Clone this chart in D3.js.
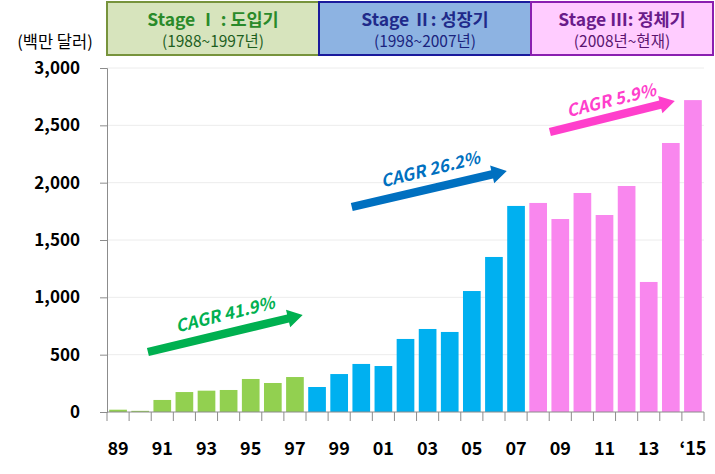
<!DOCTYPE html>
<html><head><meta charset="utf-8">
<script src="https://cdn.jsdelivr.net/npm/d3@7"></script>
<style>
html,body{margin:0;padding:0;background:#fff;}
svg{display:block;font-family:"Noto Sans CJK KR","Noto Sans",sans-serif;}
</style></head>
<body><svg id="c" width="715" height="474"></svg>
<script>
// ---- data ----
const years = d3.range(1989, 2016);
const values = [20, 10, 105, 174, 186, 192, 288, 253, 305, 218, 331, 419, 401, 637, 724, 698, 1055, 1352, 1797, 1823, 1683, 1910, 1718, 1971, 1134, 2346, 2720];
const stageOf = [1,1,1,1,1,1,1,1,1, 2,2,2,2,2,2,2,2,2,2, 3,3,3,3,3,3,3,3];
const yTicks = [0, 500, 1000, 1500, 2000, 2500, 3000];
const xLabelYears = [1989, 1991, 1993, 1995, 1997, 1999, 2001, 2003, 2005, 2007, 2009, 2011, 2013, 2015];
const xLabelText = ["89","91","93","95","97","99","01","03","05","07","09","11","13","‘15"];
const stageTitles = ["Stage Ⅰ : 도입기", "Stage Ⅱ: 성장기", "Stage Ⅲ: 정체기"];
const stageSubs = ["(1988~1997년)", "(1998~2007년)", "(2008년~현재)"];
const cagrLabels = ["CAGR 41.9%", "CAGR 26.2%", "CAGR 5.9%"];
// arrow annotation anchors in data space (year, value)
const arrowFrom = [[1990.35, 523], [1999.57, 1788], [2008.53, 2442]];
const arrowTo = [[1997.35, 846], [2006.58, 2102], [2014.18, 2712]];
const labelAt = [[1993.82, 863], [2003.1, 2128], [2011.28, 2730]];
const unitLabel = "(백만 달러)";

// ---- styles ----
const barColor = {1:"#92d050", 2:"#00b0f0", 3:"#f987ee"};
const arrowColor = ["#00b050", "#0070c0", "#ff3fcc"];
const boxFill = ["#d7e4bd", "#8db3e2", "#ffccff"];
const boxStroke = ["#77933c", "#1a1a9c", "#8a1fb0"];
const titleColor = ["#2a8a2a", "#1f2a8a", "#6a1b8a"];
const subColor = ["#1d5e1d", "#1a237e", "#5b1470"];

const svg = d3.select("#c");
const pLeft = 107, pRight = 704, pTop = 68, pBottom = 412;

const x = d3.scaleBand().domain(years).range([pLeft, pRight]).paddingInner(0.2).paddingOuter(0.1);
const y = d3.scaleLinear().domain([0, 3000]).range([pBottom, pTop]);
const step = x.step();
const xc = yr => { const i = yr - years[0]; return pLeft + step * (i + 0.5); };

// gridlines
svg.append("g").selectAll("line").data(yTicks.slice(1)).join("line")
  .attr("x1", pLeft).attr("x2", pRight).attr("y1", d => y(d)).attr("y2", d => y(d))
  .attr("stroke", "#ececec").attr("stroke-width", 1);

// bars
svg.append("g").selectAll("rect").data(years).join("rect")
  .attr("x", (d) => x(d)).attr("width", x.bandwidth())
  .attr("y", (d, i) => y(values[i])).attr("height", (d, i) => y(0) - y(values[i]))
  .attr("fill", (d, i) => barColor[stageOf[i]]);

// y axis
const yAxis = svg.append("g").attr("transform", `translate(${pLeft},0)`)
  .call(d3.axisLeft(y).tickValues(yTicks).tickSize(7).tickPadding(20).tickFormat(d3.format(",")));
yAxis.select(".domain").attr("stroke", "#8c8c8c");
yAxis.selectAll(".tick line").attr("stroke", "#8c8c8c");
yAxis.selectAll("text").attr("font-size", 17).attr("font-weight", "bold").attr("fill", "#000")
  .attr("font-family", '"Noto Sans CJK KR","Noto Sans",sans-serif');

// x axis (ticks at band boundaries)
const boundaries = d3.range(years.length + 1).map(i => pLeft + step * i);
svg.append("line").attr("x1", pLeft).attr("x2", pRight).attr("y1", pBottom).attr("y2", pBottom)
  .attr("stroke", "#8c8c8c");
svg.append("g").selectAll("line").data(boundaries).join("line")
  .attr("x1", d => d).attr("x2", d => d).attr("y1", pBottom).attr("y2", pBottom + 9)
  .attr("stroke", "#8c8c8c");
svg.append("g").selectAll("text").data(xLabelYears).join("text")
  .attr("x", d => xc(d)).attr("y", 455).attr("text-anchor", "middle")
  .attr("font-size", 18).attr("font-weight", "bold").attr("fill", "#000")
  .text((d, i) => xLabelText[i]);

// unit label
svg.append("text").attr("x", 55).attr("y", 48).attr("text-anchor", "middle")
  .attr("font-size", 16.5).attr("fill", "#000").text(unitLabel);

// stage header boxes
const boxEdges = [pLeft, 319, 531, 713];
const boxes = svg.append("g");
[0, 1, 2].forEach(i => {
  const x0 = boxEdges[i], x1 = boxEdges[i + 1];
  boxes.append("rect").attr("x", x0).attr("y", 2).attr("width", x1 - x0).attr("height", 53)
    .attr("fill", boxFill[i]).attr("stroke", boxStroke[i]).attr("stroke-width", 2);
});
[0, 1, 2].forEach(i => {
  const cx = (boxEdges[i] + boxEdges[i + 1]) / 2;
  boxes.append("text").attr("x", cx).attr("y", 26).attr("text-anchor", "middle")
    .attr("font-size", 17.5).attr("font-weight", "bold").attr("fill", titleColor[i]).text(stageTitles[i]);
  boxes.append("text").attr("x", cx).attr("y", 47).attr("text-anchor", "middle")
    .attr("font-size", 15.5).attr("fill", subColor[i]).text(stageSubs[i]);
});

// CAGR arrows
function arrowPath(x0, y0, x1, y1) {
  const dx = x1 - x0, dy = y1 - y0, L = Math.hypot(dx, dy);
  const ux = dx / L, uy = dy / L, nx = -uy, ny = ux;
  const sw = 4.2, hw = 9, hl = 15;
  const bx = x1 - ux * hl, by = y1 - uy * hl;
  const pts = [
    [x0 + nx * sw, y0 + ny * sw], [bx + nx * sw, by + ny * sw], [bx + nx * hw, by + ny * hw],
    [x1, y1], [bx - nx * hw, by - ny * hw], [bx - nx * sw, by - ny * sw], [x0 - nx * sw, y0 - ny * sw]
  ];
  return "M" + pts.map(p => p.join(",")).join("L") + "Z";
}
const ann = svg.append("g");
[0, 1, 2].forEach(i => {
  const x0 = xc(arrowFrom[i][0]), y0 = y(arrowFrom[i][1]);
  const x1 = xc(arrowTo[i][0]), y1 = y(arrowTo[i][1]);
  ann.append("path").attr("d", arrowPath(x0, y0, x1, y1)).attr("fill", arrowColor[i]);
  const lx = xc(labelAt[i][0]), ly = y(labelAt[i][1]);
  ann.append("text").attr("transform", `translate(${lx},${ly}) rotate(-14)`)
    .attr("text-anchor", "middle").attr("dominant-baseline", "central")
    .attr("font-size", 17).attr("font-style", "italic").attr("font-weight", 600)
    .attr("fill", arrowColor[i]).text(cagrLabels[i]);
});
</script></body></html>
